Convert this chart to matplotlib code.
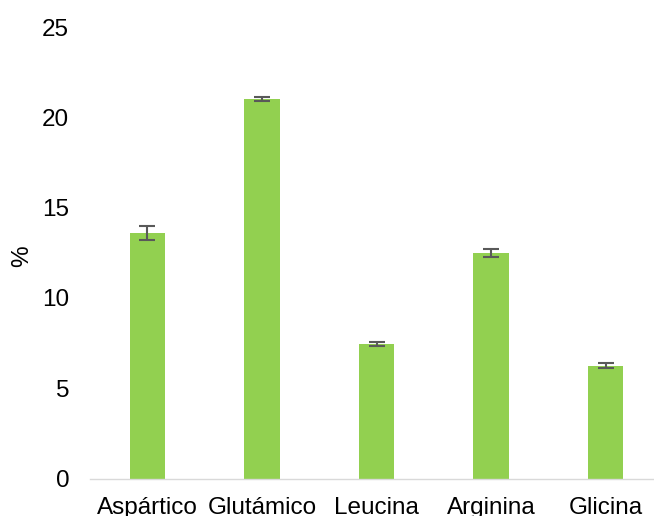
import matplotlib
matplotlib.use("Agg")
import matplotlib.pyplot as plt
import numpy as np

categories = ["Aspártico", "Glutámico", "Leucina", "Arginina", "Glicina"]
values = [13.6, 21.0, 7.45, 12.5, 6.25]
errors = [0.4, 0.12, 0.12, 0.22, 0.13]
yticks = [0, 5, 10, 15, 20, 25]

plt.rcParams['font.family'] = ['Liberation Sans', 'DejaVu Sans']

fig = plt.figure(figsize=(6.54, 5.16), dpi=100)
W, H = 654, 516
left, right = 90, 663
bottom, top = 478.5, 27
ax = fig.add_axes([left / W, 1 - bottom / H, (right - left) / W, (bottom - top) / H])

x = np.arange(len(categories))
ax.bar(x, values, width=0.31, color="#92D050", zorder=2)
ax.errorbar(x, values, yerr=errors, fmt="none", ecolor="#595959", elinewidth=1.5,
            capsize=6, capthick=1.5, zorder=3)

ax.set_xlim(-0.5, len(categories) - 0.5)
ax.set_ylim(0, 25)
ax.set_yticks(yticks)
ax.set_yticklabels([str(t) for t in yticks])
ax.set_xticks(x)
ax.set_xticklabels(categories)

for s in ["top", "right", "left"]:
    ax.spines[s].set_visible(False)
ax.spines["bottom"].set_color("#D9D9D9")
ax.spines["bottom"].set_linewidth(1.0)

ax.tick_params(axis="both", length=0, labelsize=17.5, colors="black")
ax.tick_params(axis="y", pad=15)
ax.tick_params(axis="x", pad=13.5)

fig.text(22 / W, 1 - 256 / H, "%", rotation=90, fontsize=17.5, ha="center", va="center")

fig.savefig("out.png", dpi=100)
